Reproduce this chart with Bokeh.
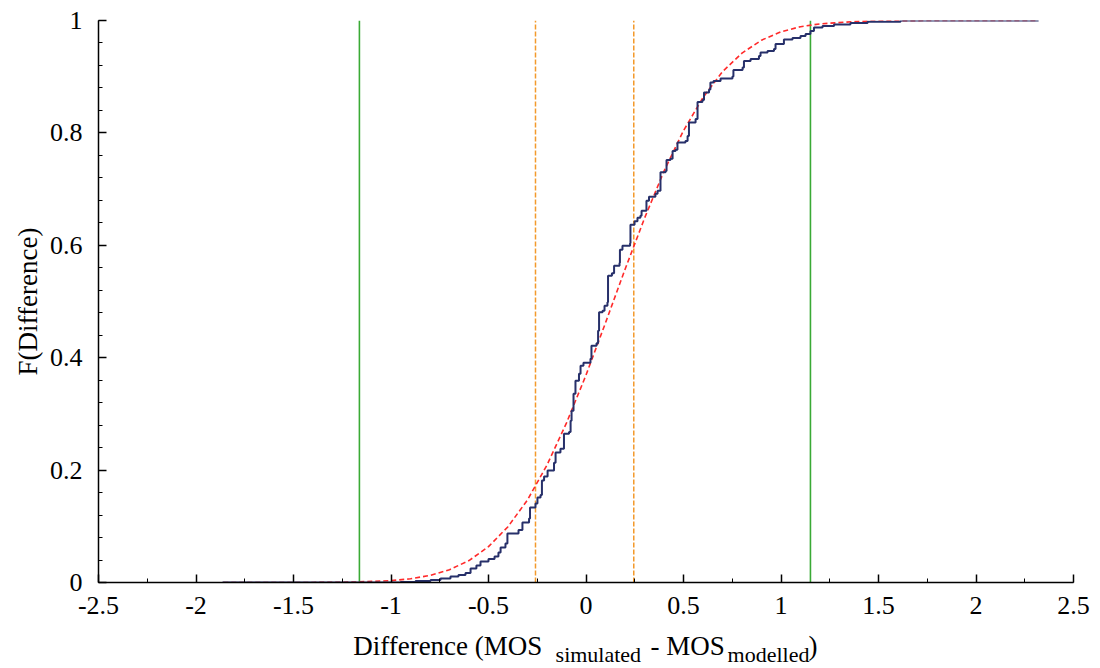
from bokeh.plotting import figure
from bokeh.models import Range1d, SingleIntervalTicker
from bokeh.layouts import column
from bokeh.core.properties import value
from bokeh.embed import file_html
from bokeh.resources import INLINE

ecdf_x = [-1.864, -0.951, -0.874, -0.797, -0.746, -0.695, -0.654, -0.618, -0.592, -0.562,
          -0.541, -0.500, -0.469, -0.449, -0.438, -0.413, -0.403, -0.346, -0.326, -0.292,
          -0.287, -0.259, -0.249, -0.233, -0.226, -0.215, -0.197, -0.164, -0.156, -0.131,
          -0.113, -0.087, -0.079, -0.074, -0.064, -0.054, -0.036, -0.028, -0.013, 0.023,
          0.028, 0.054, 0.062, 0.067, 0.085, 0.095, 0.110, 0.113, 0.133, 0.144,
          0.172, 0.174, 0.187, 0.226, 0.228, 0.249, 0.264, 0.279, 0.285, 0.310,
          0.323, 0.356, 0.367, 0.382, 0.408, 0.413, 0.433, 0.444, 0.459, 0.469,
          0.510, 0.521, 0.528, 0.562, 0.572, 0.597, 0.605, 0.631, 0.638, 0.654,
          0.690, 0.751, 0.756, 0.803, 0.810, 0.844, 0.887, 0.895, 0.931, 0.964,
          0.972, 1.015, 1.059, 1.100, 1.126, 1.151, 1.169, 1.213, 1.272, 1.356,
          1.444, 1.613, 2.321]
ecdf_y = [0.0, 0.001, 0.0027, 0.0044, 0.0071, 0.0107, 0.0133, 0.0169, 0.0249, 0.0302,
          0.0373, 0.0418, 0.0462, 0.0533, 0.0622, 0.0693, 0.0871, 0.0933, 0.1067, 0.1138,
          0.1333, 0.1404, 0.1511, 0.1556, 0.1813, 0.1884, 0.1991, 0.2133, 0.2311, 0.2382,
          0.2649, 0.2676, 0.288, 0.3058, 0.336, 0.3591, 0.3716, 0.3858, 0.3911, 0.3982,
          0.4213, 0.4258, 0.448, 0.4809, 0.4836, 0.4924, 0.4987, 0.5458, 0.5502, 0.5636,
          0.5689, 0.592, 0.5991, 0.6036, 0.6364, 0.6427, 0.6489, 0.6524, 0.6613, 0.6791,
          0.6862, 0.6916, 0.6969, 0.7298, 0.7324, 0.752, 0.7538, 0.768, 0.7698, 0.7831,
          0.7858, 0.7947, 0.8187, 0.8249, 0.8551, 0.8587, 0.872, 0.8773, 0.8898, 0.8924,
          0.8969, 0.9004, 0.912, 0.9164, 0.928, 0.9316, 0.9369, 0.9431, 0.9458, 0.9493,
          0.9582, 0.9662, 0.9689, 0.9724, 0.976, 0.9813, 0.9876, 0.9902, 0.9929, 0.9956,
          0.9977, 1.0, 1.0]

# Fitted CDF (red dashed)
fit_x = [-1.86, -1.4, -1.2, -1.0, -0.9, -0.8, -0.7, -0.6, -0.5, -0.4, -0.3, -0.2, -0.1,
         0.0, 0.1, 0.2, 0.3, 0.4, 0.5, 0.6, 0.7, 0.8, 0.9, 1.0, 1.1, 1.2, 1.4, 1.6,
         1.8, 2.0, 2.32]
fit_y = [0.0, 0.0001, 0.0007, 0.0033, 0.0066, 0.0126, 0.0228, 0.039, 0.0638, 0.0993,
         0.147, 0.209, 0.284, 0.369, 0.462, 0.557, 0.648, 0.732, 0.804, 0.863, 0.909,
         0.942, 0.965, 0.980, 0.989, 0.994, 0.9987, 0.9997, 1.0, 1.0, 1.0]

# Vertical reference lines
green_x = [-1.162, 1.151]
orange_x = [-0.259, 0.245]

x_ticks = [-2.5, -2, -1.5, -1, -0.5, 0, 0.5, 1, 1.5, 2, 2.5]
y_ticks = [0, 0.2, 0.4, 0.6, 0.8, 1]

# x-axis title pieces (main text and subscripts)
xlabel_main = ["Difference (MOS", "- MOS", ")"]
xlabel_main_x = [-1.194, 0.331, 1.141]
xlabel_sub = ["simulated", "modelled"]
xlabel_sub_x = [-0.156, 0.726]

FONT = "Liberation Serif"

p = figure(width=1100, height=620, output_backend="svg", toolbar_location=None,
           x_range=Range1d(-2.5, 2.5), y_range=Range1d(0, 1),
           min_border_left=98, min_border_right=27, min_border_top=20, min_border_bottom=38)
p.outline_line_color = None
p.grid.visible = False

p.xaxis.ticker = SingleIntervalTicker(interval=0.5, num_minor_ticks=2)
p.yaxis.ticker = SingleIntervalTicker(interval=0.2, num_minor_ticks=5)
p.xaxis.major_label_overrides = {v: ("0" if v == 0 else str(v).replace(".0", "")) for v in x_ticks}
p.yaxis.major_label_overrides = {v: ("0" if v == 0 else ("1" if v == 1 else str(v))) for v in y_ticks}

for ax in (p.xaxis[0], p.yaxis[0]):
    ax.axis_line_color = "black"
    ax.axis_line_width = 1.5
    ax.major_tick_in = 8
    ax.major_tick_out = 0
    ax.minor_tick_in = 4
    ax.minor_tick_out = 0
    ax.major_tick_line_color = "black"
    ax.major_tick_line_width = 1.5
    ax.minor_tick_line_color = "black"
    ax.major_label_text_font = FONT
    ax.major_label_text_font_size = "26px"
    ax.major_label_text_color = "black"
    ax.axis_label_text_font = FONT
    ax.axis_label_text_font_style = "normal"
    ax.axis_label_text_color = "black"

p.xaxis.major_label_standoff = 14
p.yaxis.major_label_standoff = 16
p.yaxis.axis_label = "F(Difference)"
p.yaxis.axis_label_text_font_size = "27px"
p.yaxis.axis_label_standoff = 4

# vertical reference lines
for gx in green_x:
    p.line([gx, gx], [0, 1], line_color="#3aaa35", line_width=1.6)
for ox in orange_x:
    p.line([ox, ox], [0, 1], line_color="#f39a2c", line_width=1.5, line_dash="5 2")

# fitted CDF and empirical CDF
p.line(fit_x, fit_y, line_color="#ff2a2a", line_width=1.6, line_dash="5 3")
p.step(ecdf_x, ecdf_y, mode="after", line_color="#27306a", line_width=2)

# x-axis title strip with subscripts
p2 = figure(width=1100, height=48, output_backend="svg", toolbar_location=None,
            x_range=p.x_range, y_range=Range1d(0, 48),
            min_border_left=98, min_border_right=27, min_border_top=0, min_border_bottom=0)
p2.axis.visible = False
p2.grid.visible = False
p2.outline_line_color = None
p2.text(x=xlabel_main_x, y=[23] * len(xlabel_main), text=xlabel_main,
        text_font=value(FONT), text_font_size=value("27px"), text_color="black",
        text_baseline="alphabetic", text_align="left")
p2.text(x=xlabel_sub_x, y=[14] * len(xlabel_sub), text=xlabel_sub,
        text_font=value(FONT), text_font_size=value("22px"), text_color="black",
        text_baseline="alphabetic", text_align="left")

layout = column(p, p2, spacing=0)
open("out.html", "w").write(file_html(layout, INLINE))
